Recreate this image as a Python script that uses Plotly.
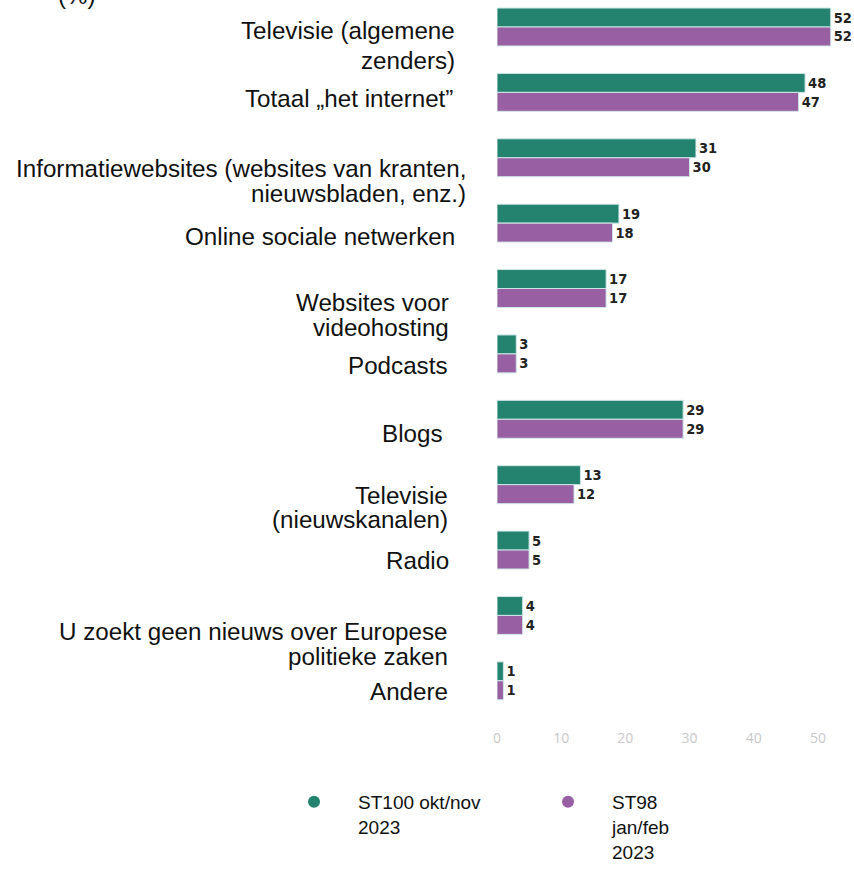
import plotly.graph_objects as go

categories = [
    "Televisie (algemene<br>zenders)",
    "Totaal „het internet”",
    "Informatiewebsites (websites van kranten,<br>nieuwsbladen, enz.)",
    "Online sociale netwerken",
    "Websites voor<br>videohosting",
    "Podcasts",
    "Blogs",
    "Televisie<br>(nieuwskanalen)",
    "Radio",
    "U zoekt geen nieuws over Europese<br>politieke zaken",
    "Andere",
]
st100 = [52, 48, 31, 19, 17, 3, 29, 13, 5, 4, 1]
st98 = [52, 47, 30, 18, 17, 3, 29, 12, 5, 4, 1]
series_names = ["ST100 okt/nov<br>2023", "ST98<br>jan/feb<br>2023"]
x_ticks = [0, 10, 20, 30, 40, 50]

GREEN = "#23836F"
PURPLE = "#985FA2"
ids = list(range(len(categories)))

# label layout tweaks: pixel offsets of each text line below its bar group, and right-edge shifts
line_drop = [[3, 33], [6], [11, 36], [13], [14, 39], [12], [14], [11, 35], [10], [16, 41], [11]]
label_xshift = [-40, -42, -29, -40, -46, -47, -52, -47, -46, -47, -47]

W, H = 854, 870

fig = go.Figure()
for k, (vals, name, col) in enumerate([(st100, series_names[0], GREEN), (st98, series_names[1], PURPLE)]):
    fig.add_trace(go.Bar(
        y=ids, x=vals, orientation="h", name=name, showlegend=False,
        marker=dict(color=col, line=dict(color="#cfe6e6", width=1)),
        text=[f"<b>{v}</b>" for v in vals], textposition="outside",
        textfont=dict(family="Liberation Sans Narrow, DejaVu Sans Condensed, sans-serif", size=14.5, color="#222"),
        cliponaxis=False,
    ))
    fig.add_trace(go.Scatter(
        x=[None], y=[None], mode="markers", name=name,
        legend="legend" if k == 0 else "legend2",
        marker=dict(color=col, size=12, symbol="circle"),
    ))

lab_font = dict(family="Liberation Sans, Arial, sans-serif", size=24.2, color="#111")
annotations = []
for i, lab in enumerate(categories):
    for j, line in enumerate(lab.split("<br>")):
        annotations.append(dict(
            x=0, xref="paper", y=i, yref="y", text=line, showarrow=False,
            xanchor="right", yanchor="middle", align="right",
            xshift=label_xshift[i], yshift=-line_drop[i][j], font=lab_font,
        ))
annotations.append(dict(
    x=0, xref="paper", y=1, yref="paper", text="(%)", showarrow=False,
    xanchor="center", yanchor="bottom", xshift=-420, yshift=-11, font=lab_font,
))

leg_common = dict(orientation="h", xref="container", yref="container",
                  y=0.1, xanchor="left", yanchor="top", valign="top",
                  itemwidth=78,
                  font=dict(family="Liberation Sans, Arial, sans-serif", size=19, color="#111"))

fig.update_layout(
    width=W, height=H,
    margin=dict(l=497, r=4, t=0, b=148),
    paper_bgcolor="white", plot_bgcolor="white",
    barmode="group", bargap=0.42, bargroupgap=0,
    xaxis=dict(range=[0, 55], tickvals=x_ticks, showgrid=False, zeroline=False,
               showline=False, ticks="", ticklabelstandoff=6,
               tickfont=dict(family="Open Sans, sans-serif", size=14, color="#c8c8c8")),
    yaxis=dict(range=[10.63, -0.413], showticklabels=False, showgrid=False,
               zeroline=False, showline=False),
    annotations=annotations,
    legend=dict(x=0.3162, **leg_common),
    legend2=dict(x=0.6136, **leg_common),
)

fig.write_html("out.html", config={"displayModeBar": False},
               post_script="document.body.style.margin='0';document.body.style.overflow='hidden';")
